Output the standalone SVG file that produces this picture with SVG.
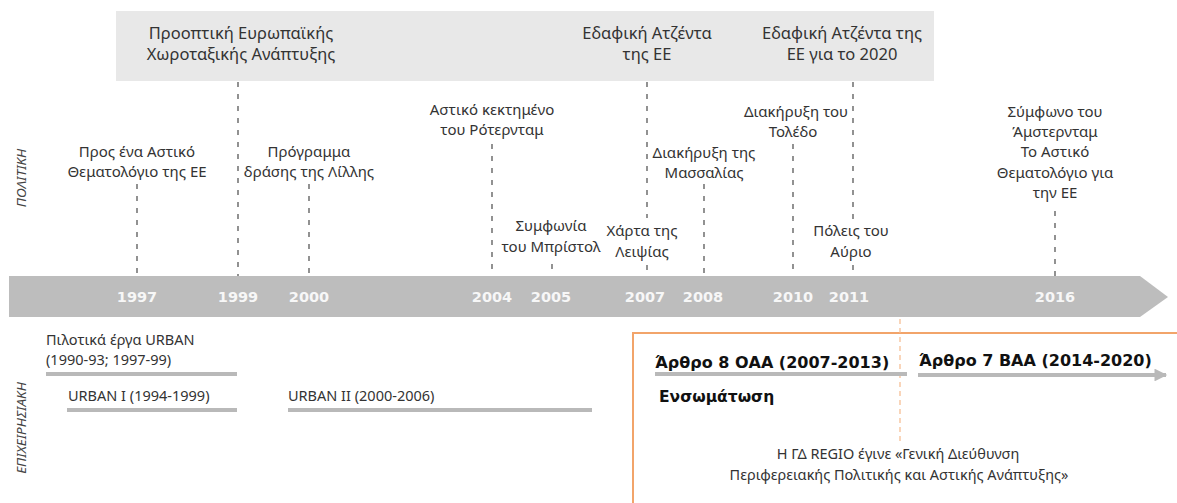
<svg xmlns="http://www.w3.org/2000/svg" width="1177" height="503" viewBox="0 0 1177 503">
  <style>
    .lbl { font-family: "Noto Sans", "Liberation Sans", sans-serif; font-size: 15px; fill: #333333; text-anchor: middle; }
    .ban { font-family: "Noto Sans", "Liberation Sans", sans-serif; font-size: 16.5px; fill: #333333; text-anchor: middle; }
    .side { font-family: "Noto Sans", "Liberation Sans", sans-serif; font-size: 13.5px; font-style: italic; fill: #444444; text-anchor: middle; }
    .yr { font-family: "DejaVu Sans", "Verdana", sans-serif; font-size: 14.5px; font-weight: bold; fill: #f7f7f7; text-anchor: middle; }
    .ops { font-family: "Noto Sans", "Liberation Sans", sans-serif; font-size: 14.5px; fill: #333333; }
    .bold { font-family: "DejaVu Sans", "Verdana", sans-serif; font-size: 16px; font-weight: bold; fill: #111111; }
    .note { font-family: "Noto Sans", "Liberation Sans", sans-serif; font-size: 14.5px; fill: #333333; text-anchor: middle; }
    .dash { stroke: #4a4a4a; stroke-width: 1.2; stroke-dasharray: 5 7; fill: none; }
    .bar { stroke: #b9b9b9; stroke-width: 4; fill: none; }
    .orange { stroke: #f2a46a; stroke-width: 2; fill: none; }
  </style>
  <defs>
    <marker id="barHead" viewBox="0 0 10 10" refX="9" refY="5" markerWidth="4" markerHeight="3.2" markerUnits="strokeWidth" orient="auto">
      <path d="M0,0 L10,5 L0,10 z" fill="#b9b9b9"/>
    </marker>
  </defs>

  <!-- banner of the major policy documents -->
  <rect id="banner" x="116" y="11" width="818" height="70" fill="#e8e8e8"/>

  <!-- main time axis -->
  <polygon id="axis" points="9,276 1140,276 1168,297 1140,317 9,317" fill="#bdbdbd"/>

  <!-- side headings -->
  <g id="side-policy">
    <text class="side" transform="translate(26,178) rotate(-90)">ΠΟΛΙΤΙΚΗ</text>
  </g>
  <g id="side-operational">
    <text class="side" transform="translate(26,428) rotate(-90)">ΕΠΙΧΕΙΡΗΣΙΑΚΗ</text>
  </g>

  <!-- connectors from events to years -->
  <g id="connectors">
    <line class="dash" x1="137" y1="184" x2="137" y2="276"/>
    <line class="dash" x1="238" y1="82" x2="238" y2="276"/>
    <line class="dash" x1="309" y1="184" x2="309" y2="276"/>
    <line class="dash" x1="492" y1="144" x2="492" y2="276"/>
    <line class="dash" x1="552" y1="264" x2="552" y2="276"/>
    <line class="dash" x1="647" y1="82" x2="647" y2="218"/>
    <line class="dash" x1="647" y1="265" x2="647" y2="276"/>
    <line class="dash" x1="704" y1="184" x2="704" y2="276"/>
    <line class="dash" x1="793" y1="144" x2="793" y2="276"/>
    <line class="dash" x1="853" y1="82" x2="853" y2="222"/>
    <line class="dash" x1="853" y1="265" x2="853" y2="276"/>
    <line class="dash" x1="1055" y1="211" x2="1055" y2="276"/>
  </g>

  <!-- years on the axis -->
  <g id="years">
    <text class="yr" x="137" y="302">1997</text>
    <text class="yr" x="238" y="302">1999</text>
    <text class="yr" x="309" y="302">2000</text>
    <text class="yr" x="492" y="302">2004</text>
    <text class="yr" x="551" y="302">2005</text>
    <text class="yr" x="645" y="302">2007</text>
    <text class="yr" x="703" y="302">2008</text>
    <text class="yr" x="793" y="302">2010</text>
    <text class="yr" x="849" y="302">2011</text>
    <text class="yr" x="1055" y="302">2016</text>
  </g>

  <!-- banner documents -->
  <g id="esdp">
    <text class="ban" x="241" y="39">Προοπτική Ευρωπαϊκής</text>
    <text class="ban" x="241" y="60">Χωροταξικής Ανάπτυξης</text>
  </g>
  <g id="territorial-agenda">
    <text class="ban" x="647" y="39">Εδαφική Ατζέντα</text>
    <text class="ban" x="647" y="60">της ΕΕ</text>
  </g>
  <g id="territorial-agenda-2020">
    <text class="ban" x="842" y="39">Εδαφική Ατζέντα της</text>
    <text class="ban" x="842" y="60">ΕΕ για το 2020</text>
  </g>

  <!-- policy events -->
  <g id="urban-agenda-1997">
    <text class="lbl" x="137" y="157">Προς ένα Αστικό</text>
    <text class="lbl" x="137" y="177">Θεματολόγιο της ΕΕ</text>
  </g>
  <g id="lille">
    <text class="lbl" x="309" y="157">Πρόγραμμα</text>
    <text class="lbl" x="309" y="177">δράσης της Λίλλης</text>
  </g>
  <g id="rotterdam">
    <text class="lbl" x="492" y="115">Αστικό κεκτημένο</text>
    <text class="lbl" x="492" y="135">του Ρότερνταμ</text>
  </g>
  <g id="bristol">
    <text class="lbl" x="551" y="231">Συμφωνία</text>
    <text class="lbl" x="551" y="252">του Μπρίστολ</text>
  </g>
  <g id="leipzig">
    <text class="lbl" x="642" y="236">Χάρτα της</text>
    <text class="lbl" x="642" y="257">Λειψίας</text>
  </g>
  <g id="marseille">
    <text class="lbl" x="704" y="158">Διακήρυξη της</text>
    <text class="lbl" x="704" y="178">Μασσαλίας</text>
  </g>
  <g id="toledo">
    <text class="lbl" x="796" y="117">Διακήρυξη του</text>
    <text class="lbl" x="793" y="137">Τολέδο</text>
  </g>
  <g id="cities-of-tomorrow">
    <text class="lbl" x="851" y="236">Πόλεις του</text>
    <text class="lbl" x="851" y="257">Αύριο</text>
  </g>
  <g id="amsterdam">
    <text class="lbl" x="1055" y="117">Σύμφωνο του</text>
    <text class="lbl" x="1055" y="137">Άμστερνταμ</text>
    <text class="lbl" x="1055" y="157">Το Αστικό</text>
    <text class="lbl" x="1055" y="178">Θεματολόγιο για</text>
    <text class="lbl" x="1055" y="198">την ΕΕ</text>
  </g>

  <!-- operational programmes -->
  <g id="urban-pilot">
    <text class="ops" x="46" y="345">Πιλοτικά έργα URBAN</text>
    <text class="ops" x="46" y="365">(1990-93; 1997-99)</text>
    <line class="bar" x1="46" y1="374" x2="237" y2="374"/>
  </g>
  <g id="urban-1">
    <text class="ops" x="68" y="401">URBAN I (1994-1999)</text>
    <line class="bar" x1="67" y1="410" x2="237" y2="410"/>
  </g>
  <g id="urban-2">
    <text class="ops" x="288" y="401">URBAN II (2000-2006)</text>
    <line class="bar" x1="288" y1="410" x2="592" y2="410"/>
  </g>

  <!-- mainstreaming period -->
  <g id="mainstreaming">
    <polyline class="orange" points="633,503 633,333 1177,333"/>
    <line x1="900" y1="319" x2="900" y2="441" stroke="#f5b98c" stroke-width="1.2" stroke-dasharray="5 4"/>
  </g>
  <g id="article-8">
    <text class="bold" x="655" y="368">Άρθρο 8 ΟΑΑ (2007-2013)</text>
    <line class="bar" x1="655" y1="374" x2="907" y2="374"/>
    <text class="bold" x="659" y="402" style="font-size:15.5px">Ενσωμάτωση</text>
  </g>
  <g id="article-7">
    <text class="bold" x="919" y="366">Άρθρο 7 ΒΑΑ (2014-2020)</text>
    <line class="bar" x1="918" y1="375" x2="1166" y2="375" marker-end="url(#barHead)"/>
  </g>
  <g id="dg-regio">
    <text class="note" x="898" y="459">Η ΓΔ REGIO έγινε «Γενική Διεύθυνση</text>
    <text class="note" x="899" y="480">Περιφερειακής Πολιτικής και Αστικής Ανάπτυξης»</text>
  </g>
</svg>
